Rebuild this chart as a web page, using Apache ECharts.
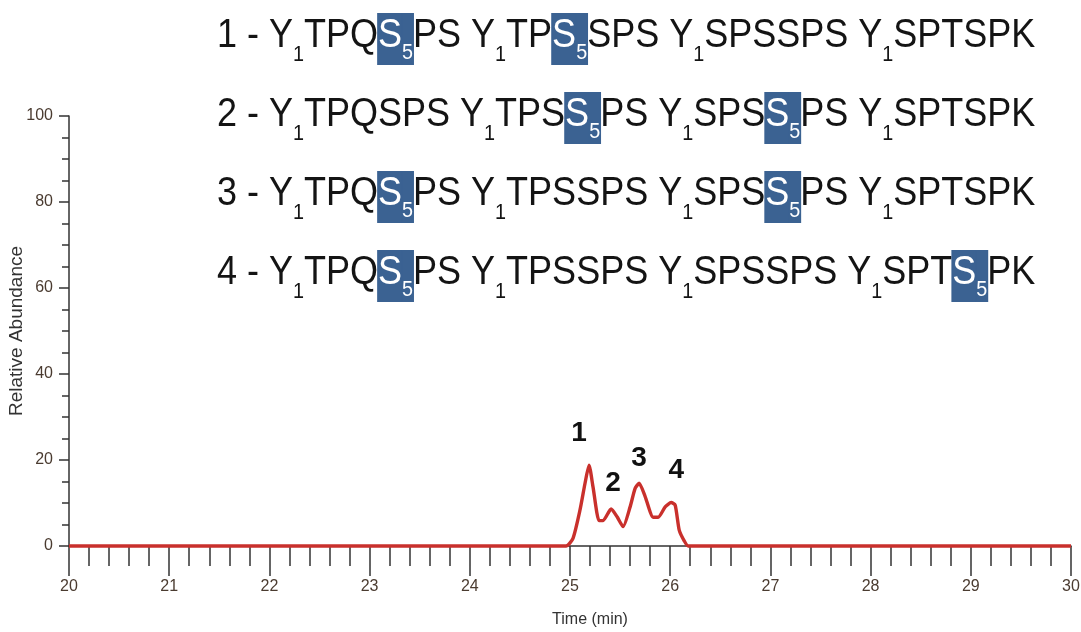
<!DOCTYPE html>
<html>
<head>
<meta charset="utf-8">
<script src="https://cdn.jsdelivr.net/npm/echarts@6/dist/echarts.min.js"></script>
<style>
html,body{margin:0;padding:0;background:#fff;}
#chart{width:1081px;height:632px;}
</style>
</head>
<body>
<div id="chart"></div>
<script>
// ---- data ----
const times = [20, 24.96, 25.03, 25.10, 25.15, 25.19, 25.23, 25.29, 25.33, 25.41, 25.47, 25.53, 25.60, 25.65, 25.69, 25.75, 25.83, 25.88, 25.95, 26.01, 26.05, 26.09, 26.14, 26.18, 30];
const abundance = [0, 0, 1.8, 8.4, 14.6, 18.8, 13.7, 5.9, 5.9, 8.6, 6.8, 4.5, 9.1, 13.4, 14.6, 11.5, 6.7, 6.7, 9.1, 10.1, 9.5, 3.7, 1.2, 0, 0];
const peakNames = ['1', '2', '3', '4'];
const peakLabelT = [25.09, 25.43, 25.69, 26.06];
const peakLabelV = [26.3, 14.6, 20.3, 17.6];
const xTicks = { min: 20, max: 30, step: 1 };
const yTicks = { min: 0, max: 100, step: 20 };
// "_x_" = subscript, "[..]" = highlighted site
const peptideRows = [
  '1 - Y_1_TPQ[S_5_]PS Y_1_TP[S_5_]SPS Y_1_SPSSPS Y_1_SPTSPK',
  '2 - Y_1_TPQSPS Y_1_TPS[S_5_]PS Y_1_SPS[S_5_]PS Y_1_SPTSPK',
  '3 - Y_1_TPQ[S_5_]PS Y_1_TPSSPS Y_1_SPS[S_5_]PS Y_1_SPTSPK',
  '4 - Y_1_TPQ[S_5_]PS Y_1_TPSSPS Y_1_SPSSPS Y_1_SPT[S_5_]PK'
];

// ---- build ----
const FONT = '"Liberation Sans", Arial, Helvetica, sans-serif';
function toRich(s) {
  let out = '', hl = false, sub = false, buf = '';
  const flush = () => { if (buf) { out += '{' + (hl ? 'h' : 'n') + (sub ? 's' : '') + '|' + buf + '}'; buf = ''; } };
  for (const ch of s) {
    if (ch === '[') { flush(); hl = true; }
    else if (ch === ']') { flush(); hl = false; }
    else if (ch === '_') { flush(); sub = !sub; }
    else buf += ch;
  }
  flush();
  return out;
}
const HL = '#3b6292';
const LH = 52;
const rich = {
  n:  { fontSize: 40, fontFamily: FONT, fill: '#141414', verticalAlign: 'top', lineHeight: LH, padding: [2, 0, 0, 0] },
  ns: { fontSize: 22, fontFamily: FONT, fill: '#141414', verticalAlign: 'top', lineHeight: LH, padding: [30, 0, 0, 0] },
  h:  { fontSize: 40, fontFamily: FONT, fill: '#ffffff', backgroundColor: HL, borderColor: HL, borderWidth: 1, verticalAlign: 'top', lineHeight: LH, padding: [2, 0, 8, 0] },
  hs: { fontSize: 22, fontFamily: FONT, fill: '#ffffff', backgroundColor: HL, borderColor: HL, borderWidth: 1, verticalAlign: 'top', lineHeight: LH, padding: [28, 0, 0, 0] }
};
const rowTops = [14, 93, 172, 251];
const graphics = peptideRows.map((r, i) => ({
  type: 'text',
  x: 217,
  y: rowTops[i],
  scaleX: 0.9,
  z: 100,
  style: { text: toRich(r), rich: rich, align: 'left', verticalAlign: 'top', fill: '#141414' }
}));

const axisColor = '#333333';
const labelColor = '#4a3b30';
const chart = echarts.init(document.getElementById('chart'), null, { renderer: 'canvas' });
chart.setOption({
  animation: false,
  backgroundColor: '#ffffff',
  grid: { left: 69, right: 10, top: 116, bottom: 86, outerBoundsMode: 'none', containLabel: false },
  xAxis: {
    type: 'value', min: xTicks.min, max: xTicks.max, interval: xTicks.step,
    name: 'Time (min)', nameLocation: 'middle', nameGap: 66, nameMoveOverlap: false,
    nameTextStyle: { fontSize: 16, fontFamily: FONT, color: '#333', padding: [0, 0, 0, 40] },
    axisLine: { show: true, onZero: false, lineStyle: { color: axisColor, width: 1.5 } },
    axisTick: { show: true, length: 30, lineStyle: { color: axisColor, width: 1.5 } },
    minorTick: { show: true, splitNumber: 5, length: 20, lineStyle: { color: axisColor, width: 1.5 } },
    axisLabel: { margin: 33, fontSize: 16, fontFamily: FONT, color: labelColor },
    splitLine: { show: false }
  },
  yAxis: {
    type: 'value', min: yTicks.min, max: yTicks.max, interval: yTicks.step,
    name: 'Relative Abundance', nameLocation: 'middle', nameGap: 43, nameMoveOverlap: false,
    nameTextStyle: { fontSize: 19, fontFamily: FONT, color: '#333' },
    axisLine: { show: true, lineStyle: { color: axisColor, width: 1.5 } },
    axisTick: { show: true, length: 10, lineStyle: { color: axisColor, width: 1.5 } },
    minorTick: { show: true, splitNumber: 4, length: 7, lineStyle: { color: axisColor, width: 1.5 } },
    axisLabel: { margin: 16, fontSize: 16, fontFamily: FONT, color: labelColor },
    splitLine: { show: false }
  },
  series: [
    {
      type: 'line',
      data: times.map((t, i) => [t, abundance[i]]),
      symbol: 'none',
      smooth: 0.2,
      clip: false,
      lineStyle: { color: '#c9302c', width: 3.4 },
      z: 5
    },
    {
      type: 'scatter',
      data: peakLabelT.map((t, i) => ({ value: [t, peakLabelV[i]], name: peakNames[i] })),
      symbolSize: 1,
      itemStyle: { color: '#111', opacity: 0 },
      label: { show: true, position: 'inside', formatter: '{b}', fontSize: 28, fontWeight: 'bold', fontFamily: FONT, color: '#111111', opacity: 1 },
      silent: true,
      z: 6
    }
  ],
  graphic: graphics
});
</script>
</body>
</html>
